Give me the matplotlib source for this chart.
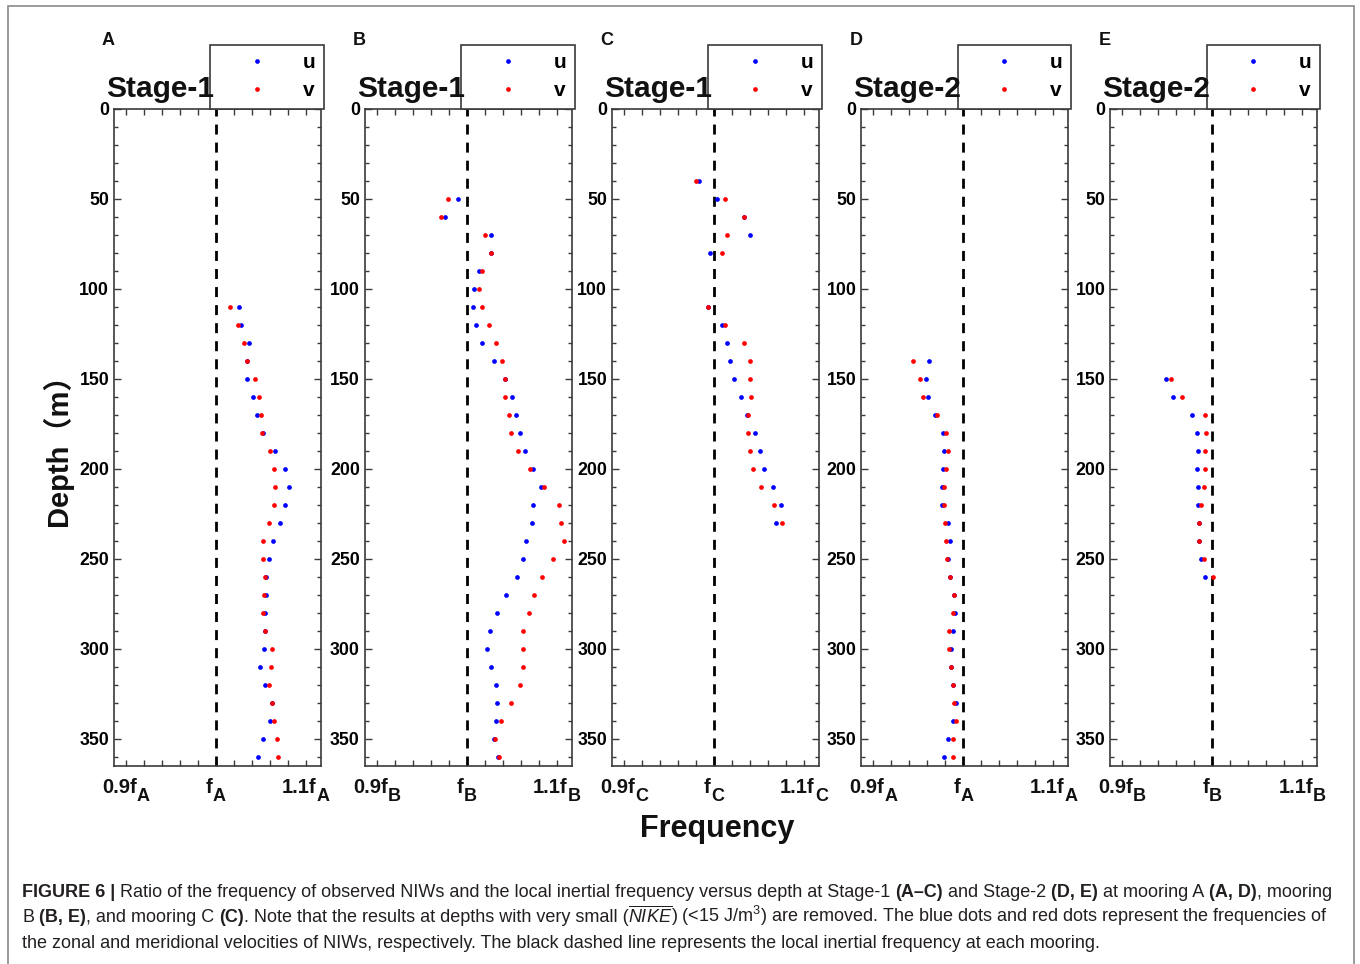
import matplotlib
matplotlib.use('Agg')
import matplotlib.pyplot as plt
import numpy as np
from matplotlib.lines import Line2D
from matplotlib.patches import Rectangle
from matplotlib.ticker import MultipleLocator, FixedLocator

plt.rcParams['font.family'] = ['Liberation Sans', 'Noto Sans CJK SC', 'DejaVu Sans']
plt.rcParams['mathtext.fontset'] = 'custom'
plt.rcParams['mathtext.rm'] = 'Liberation Sans'
plt.rcParams['mathtext.it'] = 'Liberation Sans:italic'
plt.rcParams['mathtext.bf'] = 'Liberation Sans:bold'

# ---------------- data (ratio f_obs / f_local) ----------------
depth_A = list(range(110, 361, 10))
u_A = [1.026, 1.028, 1.037, 1.035, 1.034, 1.041, 1.046, 1.052, 1.066, 1.077, 1.081, 1.077, 1.071,
       1.063, 1.059, 1.055, 1.055, 1.054, 1.054, 1.053, 1.049, 1.054, 1.062, 1.060, 1.052, 1.047]
v_A = [1.016, 1.025, 1.031, 1.034, 1.043, 1.048, 1.050, 1.051, 1.060, 1.064, 1.066, 1.064, 1.059,
       1.052, 1.052, 1.054, 1.053, 1.052, 1.054, 1.062, 1.061, 1.059, 1.062, 1.064, 1.068, 1.069]

depth_B = list(range(50, 361, 10))
u_B = [0.990, 0.976, 1.027, 1.027, 1.014, 1.008, 1.007, 1.010, 1.017, 1.030, 1.043, 1.050, 1.055,
       1.059, 1.065, 1.074, 1.082, 1.074, 1.073, 1.066, 1.063, 1.056, 1.044, 1.034, 1.026, 1.022,
       1.027, 1.033, 1.034, 1.032, 1.030, 1.035]
v_B = [0.979, 0.972, 1.020, 1.027, 1.017, 1.014, 1.017, 1.025, 1.032, 1.039, 1.042, 1.043, 1.047,
       1.049, 1.057, 1.070, 1.086, 1.103, 1.105, 1.108, 1.096, 1.084, 1.075, 1.069, 1.062, 1.062,
       1.062, 1.059, 1.049, 1.038, 1.031, 1.036]

depth_C = [40, 50, 60, 70, 80] + list(range(110, 231, 10))
u_C = [0.983, 1.003, 1.033, 1.040, 0.996, 0.993, 1.009, 1.015, 1.018, 1.022, 1.030, 1.037, 1.046,
       1.051, 1.055, 1.066, 1.074, 1.069]
v_C = [0.980, 1.012, 1.033, 1.014, 1.009, 0.993, 1.012, 1.033, 1.040, 1.040, 1.041, 1.038, 1.038,
       1.040, 1.043, 1.052, 1.067, 1.075]

depth_D = list(range(140, 361, 10))
u_D = [0.962, 0.959, 0.961, 0.969, 0.978, 0.979, 0.977, 0.976, 0.976, 0.983, 0.985, 0.983, 0.985,
       0.990, 0.991, 0.988, 0.986, 0.986, 0.989, 0.992, 0.989, 0.983, 0.979]
v_D = [0.944, 0.952, 0.955, 0.971, 0.981, 0.983, 0.981, 0.979, 0.979, 0.980, 0.981, 0.982, 0.985,
       0.990, 0.988, 0.984, 0.984, 0.986, 0.989, 0.990, 0.992, 0.988, 0.988]

depth_E = list(range(150, 261, 10))
u_E = [0.948, 0.956, 0.977, 0.983, 0.984, 0.983, 0.984, 0.984, 0.985, 0.985, 0.987, 0.992]
v_E = [0.954, 0.966, 0.992, 0.993, 0.992, 0.992, 0.991, 0.987, 0.985, 0.985, 0.991, 1.001]

panel_letters = ['A', 'B', 'C', 'D', 'E']
stages = ['Stage-1', 'Stage-1', 'Stage-1', 'Stage-2', 'Stage-2']
moorings = ['A', 'B', 'C', 'A', 'B']
xtick_vals = [0.9, 1.0, 1.1]
xtick_main = ['0.9f', 'f', '1.1f']
ytick_vals = list(range(0, 351, 50))

panels = [(depth_A, u_A, v_A), (depth_B, u_B, v_B), (depth_C, u_C, v_C),
          (depth_D, u_D, v_D), (depth_E, u_E, v_E)]

# ---------------- layout ----------------
W, H = 1360, 964
fig = plt.figure(figsize=(W / 100, H / 100), dpi=100)
fig.patch.set_facecolor('white')


def fx(p):
    return p / W


def fy(p):
    return 1 - p / H


ax_top, ax_bot = 108.7, 766.0
f_px = [216.0, 466.7, 714.0, 963.3, 1212.3]
ax_w = 207.0
px_per_unit = 900.0
xlim = (1 - 102 / px_per_unit, 1 + 105 / px_per_unit)
spine_c = '#3a3a3a'

axes = []
for i, (dep, uu, vv) in enumerate(panels):
    left = f_px[i] - 102
    ax = fig.add_axes([fx(left), fy(ax_bot), ax_w / W, (ax_bot - ax_top) / H])
    axes.append(ax)
    ax.plot(uu, dep, ls='', marker='o', ms=3.4, color='#0000ff', mec='none', zorder=3)
    ax.plot(vv, dep, ls='', marker='o', ms=3.4, color='#ff0000', mec='none', zorder=4)
    ax.axvline(1.0, color='k', lw=2.0, dashes=(3.6, 2.9), zorder=2)
    ax.set_xlim(*xlim)
    ax.set_ylim(365, 0)
    ax.set_xticks(xtick_vals)
    ax.xaxis.set_minor_locator(FixedLocator([0.92, 0.94, 0.96, 0.98, 1.02, 1.04, 1.06, 1.08]))
    ax.set_xticklabels([])
    ax.set_yticks(ytick_vals)
    ax.yaxis.set_minor_locator(MultipleLocator(10))
    ax.set_yticklabels([str(v) for v in ytick_vals])
    ax.tick_params(axis='both', which='both', direction='in', top=True, right=True,
                   color=spine_c, width=1.0)
    ax.tick_params(axis='y', which='major', length=5, pad=3.5, labelsize=12.8)
    ax.tick_params(axis='y', which='minor', length=3)
    ax.tick_params(axis='x', which='both', length=4)
    for lbl in ax.get_yticklabels():
        lbl.set_fontweight('bold')
    for sp in ax.spines.values():
        sp.set_color(spine_c)
        sp.set_linewidth(1.2)

    handles = [Line2D([], [], ls='', marker='o', ms=3.4, color='#0000ff', mec='none'),
               Line2D([], [], ls='', marker='o', ms=3.4, color='#ff0000', mec='none')]
    leg = ax.legend(handles, ['u', 'v'], loc='lower right', bbox_to_anchor=(1 + 3 / ax_w, 1.0),
                    borderaxespad=0, frameon=True, fancybox=False, edgecolor=spine_c,
                    framealpha=1, prop=dict(weight='bold', size=15), handlelength=3.7,
                    handletextpad=0.35, borderpad=0.4, labelspacing=0.45, numpoints=1)
    leg.get_frame().set_linewidth(1.2)

    right = left + ax_w
    fig.text(fx(right - 107), fy(97), stages[i], ha='right', va='baseline',
             size=21.5, weight='bold', color='#111111')
    fig.text(fx(left - 12), fy(45), panel_letters[i], ha='left', va='baseline',
             size=13, weight='bold', color='#111111')

fig.canvas.draw()
R = fig.canvas.get_renderer()


def text_width(s, size, weight):
    t = fig.text(0, 0, s, size=size, weight=weight)
    w = t.get_window_extent(R).width
    t.remove()
    return w


def adv(s, size, weight):
    return text_width('|' + s + '|', size, weight) - text_width('||', size, weight)


# custom x tick labels: main text + subscript mooring letter
main_size, sub_size = 14.5, 13
for i in range(5):
    left = f_px[i] - 102
    for tv, mt in zip(xtick_vals, xtick_main):
        xpx = left + (tv - xlim[0]) * px_per_unit
        w1 = adv(mt, main_size, 'bold')
        w2 = adv(moorings[i], sub_size, 'bold')
        x0 = xpx - (w1 + w2) / 2
        fig.text(fx(x0), fy(793), mt, ha='left', va='baseline', size=main_size,
                 weight='bold', color='#111111')
        fig.text(fx(x0 + w1), fy(801), moorings[i], ha='left', va='baseline',
                 size=sub_size, weight='bold', color='#111111')

fig.text(fx(57), fy(443), 'Depth（m）', rotation=90, ha='center', va='center',
         size=21, weight='bold', color='#111111')
fig.text(fx(717), fy(837), 'Frequency', ha='center', va='baseline',
         size=22, weight='bold', color='#111111')

# outer frame
fig.add_artist(Rectangle((fx(8), fy(975)), (1354 - 8) / W, (975 - 6) / H,
                         transform=fig.transFigure, fill=False, ec='#8a8a8a', lw=1.2))

# caption
cap_color = '#231f20'
line1 = [('FIGURE 6 |', 'b'),
         (' Ratio of the frequency of observed NIWs and the local inertial frequency versus depth at Stage-1 ', 'n'),
         ('(A–C)', 'b'), (' and Stage-2 ', 'n'), ('(D, E)', 'b'), (' at mooring A ', 'n'),
         ('(A, D)', 'b'), (', mooring', 'n')]
line2 = [('B ', 'n'), ('(B, E)', 'b'), (', and mooring C ', 'n'), ('(C)', 'b'),
         ('. Note that the results at depths with very small (', 'n'),
         (r'$\overline{NIKE}$', 'n'),
         (r') (<15 J/m$^{3}$) are removed. The blue dots and red dots represent the frequencies of', 'n')]
line3 = [('the zonal and meridional velocities of NIWs, respectively. The black dashed line '
          'represents the local inertial frequency at each mooring.', 'n')]


def run_layout(runs, size):
    sp = adv(' ', size, 'normal')
    x = 0.0
    out = []
    for s, st in runs:
        w = 'bold' if st == 'b' else 'normal'
        lead = len(s) - len(s.lstrip(' '))
        trail = len(s) - len(s.rstrip(' '))
        core = s.strip(' ')
        x += lead * sp
        out.append((x, core, w))
        x += adv(core, size, w) + trail * sp
    return out, x


_, w_ref = run_layout(line1, 10.0)
cap_size = 10.0 * (1338 - 22) / w_ref
for runs, yb in [(line1, 897), (line2, 922), (line3, 948)]:
    items, _ = run_layout(runs, cap_size)
    for x, core, w in items:
        fig.text(fx(22 + x), fy(yb), core, ha='left', va='baseline', size=cap_size,
                 weight=w, color=cap_color)

fig.savefig('out.png', dpi=100, facecolor='white')
